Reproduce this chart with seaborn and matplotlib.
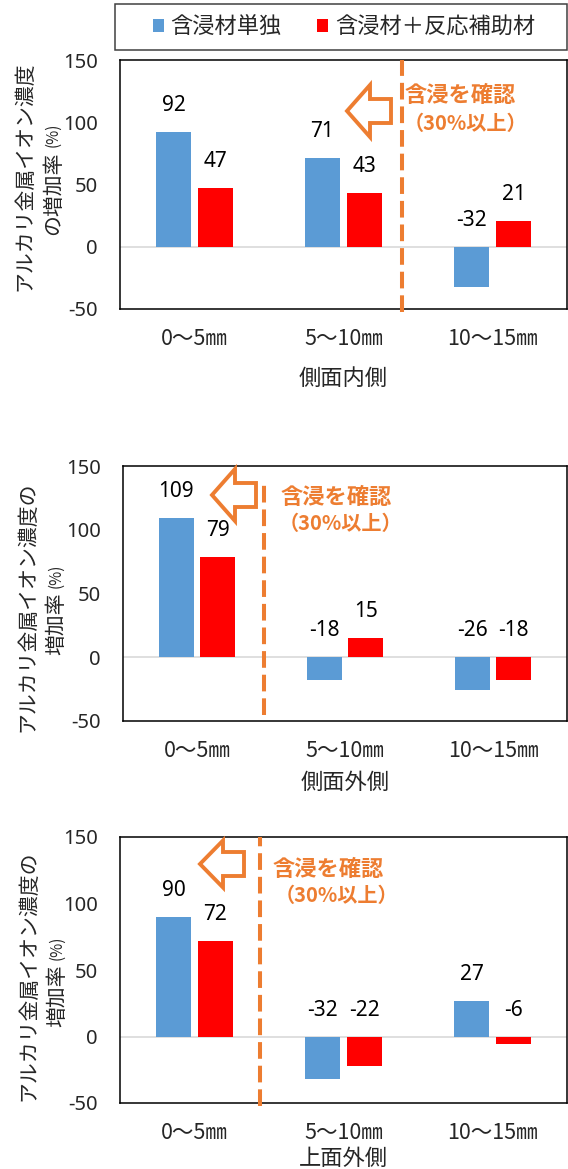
import matplotlib
matplotlib.use("Agg")
import matplotlib.pyplot as plt
from matplotlib.text import Annotation
import seaborn as sns
import pandas as pd
from matplotlib.patches import Polygon, Rectangle

# ---- data -------------------------------------------------------------
ranges = ["0～5㎜", "5～10㎜", "10～15㎜"]
series = ["含浸材単独", "含浸材＋反応補助材"]
colors = ["#5B9BD5", "#FF0000"]

inner_side_single = [92, 71, -32]
inner_side_combo = [47, 43, 21]
outer_side_single = [109, -18, -26]
outer_side_combo = [79, 15, -18]
outer_top_single = [90, -32, 27]
outer_top_combo = [72, -22, -6]

panel_titles = ["側面内側", "側面外側", "上面外側"]
ylabel_first = ["アルカリ金属イオン濃度", "アルカリ金属イオン濃度の", "アルカリ金属イオン濃度の"]
ylabel_second = ["の増加率", "増加率", "増加率"]
ylabel_unit = "(%)"
y_ticks = [-50, 0, 50, 100, 150]
note_main = "含浸を確認"
note_sub = "（30%以上）"

# threshold boundary (in category units) for each panel
boundary_x = [1.39, 0.45, 0.44]

# ---- layout (pixels, figure is 568 x 1169) -----------------------------
W, H = 568, 1169
ORANGE = "#ED7D31"

def fx(x):
    return x / W

def fy(y):
    return 1 - y / H

axes_px = [(120, 60, 567, 309), (123, 466, 567, 721), (120, 837, 567, 1103)]
boundary_span = [(-0.012, 1.0), (0.024, 0.945), (-0.01, 1.0)]
xlabel_pad = [12, 6, 2]
arrow_tip = [(347, 111), (212, 495), (200, 864)]
arrow_h = [52, 52, 47]
note_pos = [((460, 96), (465, 123)), ((336, 497), (340, 523)), ((328, 870), (336, 895))]
ylab_line1 = [(24, 176), (27, 607), (28, 976)]
ylab_line2 = [(53, 235), (56, 655), (57, 1027)]

sns.set_theme(style="white")
plt.rcParams["font.family"] = ["Noto Sans", "Noto Sans CJK JP"]
plt.rcParams["lines.scale_dashes"] = False
plt.rcParams["axes.unicode_minus"] = False

fig = plt.figure(figsize=(W / 100, H / 100), dpi=100)

panels = [
    (inner_side_single, inner_side_combo),
    (outer_side_single, outer_side_combo),
    (outer_top_single, outer_top_combo),
]

legend_handles = None
legend_labels = None

for i, (single, combo) in enumerate(panels):
    l, t, r, b = axes_px[i]
    ax = fig.add_axes([fx(l), fy(b), (r - l) / W, (b - t) / H])

    df = pd.DataFrame({
        "range": ranges * 2,
        "series": [series[0]] * len(ranges) + [series[1]] * len(ranges),
        "value": list(single) + list(combo),
    })
    sns.barplot(data=df, x="range", y="value", hue="series", hue_order=series,
                palette=colors, saturation=1, width=0.564, gap=0.167,
                errorbar=None, linewidth=0, legend=(i == 0), ax=ax, zorder=2)

    if i == 0:
        leg = ax.get_legend()
        legend_handles = leg.legend_handles
        legend_labels = [tx.get_text() for tx in leg.get_texts()]
        leg.remove()

    ax.set_xlim(-0.5, 2.5)
    ax.set_ylim(-50, 150)
    ax.set_yticks(y_ticks)
    ax.axhline(0, color="#D9D9D9", lw=1.2, zorder=1)

    for sp in ax.spines.values():
        sp.set_visible(True)
        sp.set_color("black")
        sp.set_linewidth(1.1)

    ax.tick_params(axis="y", length=0, pad=16, labelsize=14.5)
    ax.tick_params(axis="x", length=0, pad=14, labelsize=15.5)
    for lab in ax.get_xticklabels():
        lab.set_fontfamily(["Noto Sans CJK JP"])

    ax.set_ylabel("")
    ax.set_xlabel(panel_titles[i], fontsize=16, labelpad=xlabel_pad[i],
                  fontfamily=["Noto Sans CJK JP"])

    # value labels sit above the bar top (or above zero for negative bars)
    for cont, vals in zip(ax.containers, (single, combo)):
        for bar, v in zip(cont, vals):
            ax.annotate(f"{v}", xy=(bar.get_x() + bar.get_width() / 2, max(v, 0)),
                        xytext=(0, 19), textcoords="offset points",
                        ha="center", va="center", fontsize=15, color="black")

    # dashed threshold boundary
    ymin, ymax = boundary_span[i]
    ax.axvline(boundary_x[i], ymin=ymin, ymax=ymax, color=ORANGE, lw=2.9,
               dashes=(12, 5), clip_on=False, zorder=3)

    # hollow block arrow pointing to the confirmed region
    x0, yc = arrow_tip[i]
    hh = arrow_h[i]
    L, Lh, s = 44, 23, 24
    verts = [(x0, yc), (x0 + Lh, yc - hh / 2), (x0 + Lh, yc - s / 2),
             (x0 + L, yc - s / 2), (x0 + L, yc + s / 2), (x0 + Lh, yc + s / 2),
             (x0 + Lh, yc + hh / 2)]
    fig.add_artist(Polygon([(fx(x), fy(y)) for x, y in verts], closed=True,
                           transform=fig.transFigure, facecolor="white",
                           edgecolor=ORANGE, lw=2.8, joinstyle="miter", zorder=4))

    (mx, my), (sx, sy) = note_pos[i]
    fig.text(fx(mx), fy(my), note_main, color=ORANGE, fontsize=16, fontweight="bold",
             ha="center", va="center", family=["Noto Sans CJK JP"], zorder=5)
    fig.text(fx(sx), fy(sy), note_sub, color=ORANGE, fontsize=14.5, fontweight="bold",
             ha="center", va="center", family=["Noto Sans CJK JP"], zorder=5)

    # two-line rotated y label with a smaller unit
    lx, ly = ylab_line1[i]
    fig.text(fx(lx), fy(ly), ylabel_first[i], rotation=90, fontsize=15,
             ha="center", va="center", family=["Noto Sans CJK JP"])
    l2x, l2y = ylab_line2[i]
    t2 = fig.text(fx(l2x), fy(l2y), ylabel_second[i], rotation=90, fontsize=15,
                  ha="center", va="bottom", family=["Noto Sans CJK JP"])
    fig.add_artist(Annotation(
        ylabel_unit, xy=(0.5, 1.0), xycoords=t2, xytext=(0, 3),
        textcoords="offset points", rotation=90, fontsize=11,
        ha="center", va="bottom", family=["Noto Sans CJK JP"]))

# legend with its own frame
fig.add_artist(Rectangle((fx(115), fy(50)), (567 - 115) / W, 46 / H,
                         transform=fig.transFigure, fill=False,
                         edgecolor="#404040", lw=1.1))
fig.legend(legend_handles, legend_labels, loc="center",
           bbox_to_anchor=(fx(344), fy(27)), ncol=2, frameon=False,
           handlelength=0.5, handleheight=0.5,
           handletextpad=0.3, columnspacing=1.6,
           prop={"family": ["Noto Sans CJK JP"], "size": 16})

fig.savefig("out.png", dpi=100)
